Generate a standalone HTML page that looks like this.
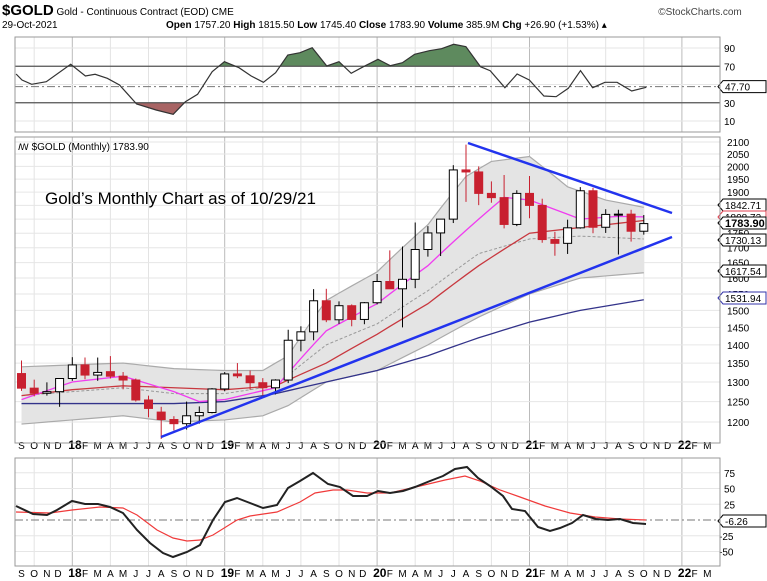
<!DOCTYPE html>
<html><head><meta charset="utf-8">
<style>
html,body{margin:0;padding:0;background:#fff;}
svg{display:block;font-family:"Liberation Sans",sans-serif;}
</style></head>
<body>
<svg id="s" width="767" height="581" xmlns="http://www.w3.org/2000/svg"></svg>
<script>
const S=document.getElementById('s');
let h='';
const X=i=>21.5+12.7*i;
const L=15,R=720;
const Y=p=>142+280*Math.log(2100/p)/Math.log(1.75);
function line(x1,y1,x2,y2,c,w,extra){h+=`<line x1="${x1}" y1="${y1}" x2="${x2}" y2="${y2}" stroke="${c}" stroke-width="${w}" ${extra||''}/>`;}
function txt(x,y,t,sz,extra){h+=`<text x="${x}" y="${y}" font-size="${sz}" ${extra||''}>${t}</text>`;}
function poly(pts,c,w,extra){h+=`<polyline points="${pts.map(p=>p.join(',')).join(' ')}" fill="none" stroke="${c}" stroke-width="${w}" ${extra||''}/>`;}
// header
txt(2,15,'<tspan font-weight="bold" font-size="15">$GOLD</tspan> Gold - Continuous Contract (EOD) CME',10);
txt(700,15,'©StockCharts.com',10,'text-anchor="middle" fill="#444"');
txt(2,28,'29-Oct-2021',10);
txt(166,28,'<tspan font-weight="bold">Open</tspan> 1757.20 <tspan font-weight="bold">High</tspan> 1815.50 <tspan font-weight="bold">Low</tspan> 1745.40 <tspan font-weight="bold">Close</tspan> 1783.90 <tspan font-weight="bold">Volume</tspan> 385.9M <tspan font-weight="bold">Chg</tspan> +26.90 (+1.53%) ▴',10);
// panels
const panels=[[37,132],[137,443],[458,566]];
// vertical grid
for(const [t,b] of panels){
 for(let i=1;i<=60;i+=3){const x=X(i);if(x>R)break;line(x,t,x,b,(i-4)%12==0?'#bbb':'#e3e3e3',1);}
}
// horizontal grid main
for(let p=1200;p<=2100;p+=50){line(L,Y(p),R,Y(p),'#e6e6e6',1);txt(727,Y(p)+4,p,10);}
// rsi grid
const RY=v=>48+(90-v)*0.9125;
[90,70,50,30,10].forEach(v=>{line(L,RY(v),R,RY(v),'#e6e6e6',1);if(v!=50)txt(724,RY(v)+4,v,10);});
// macd grid
const MY=v=>520-v*0.63;
[75,50,25,-25,-50].forEach(v=>{line(L,MY(v),R,MY(v),'#e6e6e6',1);txt(v<0?719:724,MY(v)+4,v,10);});
// month labels
const mon='SONDJFMAMJJASONDJFMAMJJASONDJFMAMJJASONDJFMAMJJASONDJFM';
const yrs={4:'18',16:'19',28:'20',40:'21',52:'22'};
for(const yy of [449,577]){
 for(let i=0;i<56;i++){const x=X(i);if(x>716)break;
  if(yrs[i]) txt(x-4,yy,'<tspan font-size="11">D</tspan>'.replace('D','')+`<tspan font-weight="bold" font-size="12">${yrs[i]}</tspan>`,12,'');
  else if(!yrs[i+1]) txt(x,yy,mon[i],10,'text-anchor="middle"');
  else txt(x+2,yy,mon[i],10,'text-anchor="end"');
 }
}
// bands
function interp(k){const pts=[];const keys=Object.keys(k).map(Number);for(let i=0;i<=49;i++){let a=keys[0],b=keys[keys.length-1];for(let j=0;j<keys.length-1;j++){if(i>=keys[j]&&i<=keys[j+1]){a=keys[j];b=keys[j+1];break;}}const t=b==a?0:(i-a)/(b-a);pts.push([X(i),Y(k[a]+(k[b]-k[a])*t)]);}return pts;}
const up=interp({0:1340,4:1345,8:1350,12:1335,16:1330,19:1330,21:1370,24:1530,28:1620,32:1780,35:1960,37:2020,40:2040,43:1920,46:1870,49:1843});
const lo=interp({0:1195,4:1205,8:1215,12:1200,16:1205,19:1215,21:1240,24:1300,28:1330,32:1400,36:1480,40:1550,44:1600,49:1617});
const mid=interp({0:1265,4:1275,8:1285,12:1270,16:1270,20:1290,24:1400,28:1460,32:1560,36:1680,40:1730,44:1740,49:1730});
const mag=interp({0:1255,4:1300,8:1315,12:1275,14:1250,16:1255,20:1285,24:1440,28:1520,32:1640,36:1800,38:1880,40:1870,44:1800,47:1810,49:1808});
const red=interp({0:1265,4:1280,8:1290,12:1285,16:1280,20:1290,24:1350,28:1430,32:1520,36:1640,40:1750,44:1770,49:1795});
const blu=interp({0:1245,12:1245,16:1250,20:1270,24:1300,28:1330,32:1370,36:1420,40:1465,44:1500,49:1532});
h+=`<polygon points="${up.concat(lo.slice().reverse()).map(p=>p.join(',')).join(' ')}" fill="#e4e4e4" stroke="none"/>`;
poly(up,'#aaa',1.2);poly(lo,'#aaa',1.2);
poly(mid,'#999',1,'stroke-dasharray="3,2"');
poly(blu,'#33338a',1.3);poly(red,'#c8383f',1.3);poly(mag,'#f03cf0',1.3);
// candles
const D=[[1322,1357,1277,1284],[1284,1306,1263,1271],[1271,1299,1265,1275],[1275,1309,1237,1309],[1309,1366,1303,1345],[1345,1365,1307,1318],[1318,1365,1303,1325],[1327,1369,1309,1315],[1315,1326,1281,1305],[1305,1309,1250,1254],[1254,1265,1211,1233],[1224,1237,1160,1206],[1206,1214,1180,1196],[1196,1250,1182,1215],[1215,1238,1196,1223],[1223,1284,1221,1282],[1282,1326,1276,1321],[1321,1350,1310,1316],[1316,1330,1280,1298],[1298,1310,1266,1285],[1285,1307,1268,1305],[1305,1443,1297,1413],[1413,1453,1382,1437],[1437,1565,1413,1529],[1529,1566,1465,1472],[1472,1527,1460,1514],[1514,1518,1453,1473],[1473,1525,1459,1523],[1523,1613,1518,1589],[1589,1691,1567,1566],[1566,1704,1450,1596],[1596,1788,1568,1694],[1694,1775,1670,1751],[1751,1800,1672,1800],[1800,2005,1786,1986],[1986,2089,1863,1978],[1978,2000,1851,1895],[1895,1941,1860,1879],[1879,1966,1767,1781],[1781,1907,1775,1895],[1895,1962,1803,1850],[1850,1875,1717,1728],[1728,1755,1673,1715],[1715,1798,1679,1769],[1769,1919,1766,1905],[1905,1916,1750,1771],[1771,1836,1751,1817],[1817,1834,1677,1818],[1818,1834,1721,1757],[1757,1815,1745,1784]];
D.forEach((d,i)=>{const [o,hi,lw,c]=d;const x=X(i);const down=c<o;const col=down?'#c8202f':'#000';
 line(x,Y(hi),x,Y(lw),col,1);
 const t=Y(Math.max(o,c)),b=Y(Math.min(o,c));
 h+=`<rect x="${x-4}" y="${t}" width="8" height="${Math.max(1,b-t)}" fill="${down?'#c8202f':'#fff'}" stroke="${col}" stroke-width="1"/>`;
});
// trend lines
line(161,437,672,237,'#2233ee',2.5);line(468,143,672,213,'#2233ee',2.5);
// main labels
txt(18,150,'<tspan font-size="9">ꟿ</tspan> $GOLD (Monthly) 1783.90',10);
txt(45,204,'Gold’s Monthly Chart as of 10/29/21',17);
function tag(y,t,c,bold){h+=`<path d="M718,${y} l5,-6 h43 v12 h-43 z" fill="#fff" stroke="${c}" stroke-width="1"/>`;txt(725,y+4,t,bold?11:10,bold?'font-weight="bold"':'');}
tag(205,'1842.71','#000');tag(217,'1808.72','#e04050');tag(240,'1730.13','#000');tag(271,'1617.54','#000');tag(298,'1531.94','#3333aa');tag(223,'1783.90','#000',true);
// RSI
const rz=[[33,222],[45,240],[65,253],[95,245],[145,193],[175,228],[195,223],[220,235],[245,255],[280,312],[320,330],[355,343],[380,305],[405,283],[435,215],[460,185],[490,203],[515,228],[540,247],[565,218],[590,165],[615,158],[640,143],[670,198],[695,185],[720,220],[745,200],[775,178],[800,197],[825,188],[850,163],[880,152],[905,146],[930,133],[955,140],[985,200],[1005,212],[1035,263],[1060,222],[1085,240],[1115,288],[1140,290],[1165,265],[1190,212],[1215,263],[1240,247],[1265,247],[1295,273],[1325,262]];
const rp=rz.map(p=>[(p[0]/2.05).toFixed(1),(p[1]/3).toFixed(1)]);
const y70=RY(70),y30=RY(30);
h+=`<defs><clipPath id="ca"><rect x="0" y="0" width="767" height="${y70}"/></clipPath><clipPath id="cb"><rect x="0" y="${y30}" width="767" height="40"/></clipPath></defs>`;
const rs=rp.map(p=>p.join(',')).join(' ');
h+=`<polygon points="${rs} ${rp[rp.length-1][0]},${y70} ${rp[0][0]},${y70}" fill="#5e8a5e" clip-path="url(#ca)"/>`;
h+=`<polygon points="${rs} ${rp[rp.length-1][0]},${y30} ${rp[0][0]},${y30}" fill="#a86464" clip-path="url(#cb)"/>`;
line(L,y70,R,y70,'#555',1.2);line(L,y30,R,y30,'#555',1.2);
line(L,RY(47.7),R,RY(47.7),'#777',1,'stroke-dasharray="8,3,2,3"');
poly(rp,'#333',1.2);
tag(RY(47.7),'47.70','#000');
// MACD
line(L,520,R,520,'#777',1,'stroke-dasharray="8,3,2,3"');
const mr=[[16,512],[50,513],[72,510],[100,507],[123,508],[137,515],[157,530],[173,538],[187,541],[200,540],[213,535],[237,520],[250,516],[277,512],[300,502],[315,493],[333,490],[347,490],[367,493],[390,493],[420,486],[445,480],[465,476],[480,481],[500,490],[520,497],[545,506],[570,513],[595,517],[620,519],[646,520]];
const mb=[[16,506],[33,514],[47,515],[57,510],[72,501],[85,504],[98,504],[110,507],[123,513],[137,530],[150,543],[163,553],[173,557],[187,552],[200,545],[213,520],[225,502],[237,498],[250,503],[263,508],[277,505],[288,488],[300,481],[313,473],[328,484],[340,487],[353,496],[367,496],[378,491],[390,493],[403,491],[415,487],[430,481],[443,476],[455,469],[467,467],[478,478],[490,486],[503,496],[512,509],[525,511],[538,527],[550,531],[560,528],[572,523],[583,515],[596,519],[608,520],[620,519],[633,523],[646,524]];
poly(mr,'#f03a3a',1.2);poly(mb,'#222',2);
tag(521,'-6.26','#000');
// panel borders
for(const [t,b] of panels){h+=`<rect x="${L}" y="${t}" width="${R-L}" height="${b-t}" fill="none" stroke="#999" stroke-width="1"/>`;}
S.innerHTML=h;
</script>
</body></html>
